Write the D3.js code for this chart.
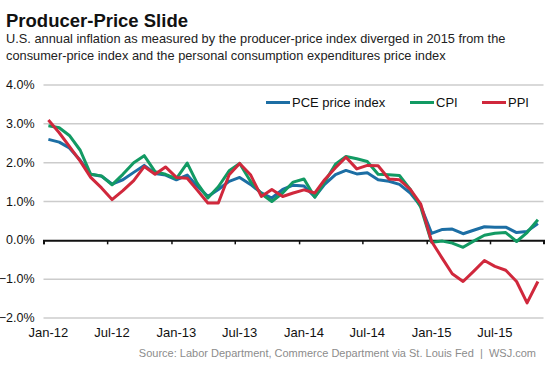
<!DOCTYPE html>
<html>
<head>
<meta charset="utf-8">
<script src="https://cdn.jsdelivr.net/npm/d3@7"></script>
<style>
  html, body { margin: 0; padding: 0; background: #fff; }
  svg { display: block; font-family: "Liberation Sans", Arial, sans-serif; }
</style>
</head>
<body>
<svg id="chart" width="553" height="369"></svg>
<script>
// monthly, Jan-12 .. Nov-15
const pce = [
  2.6, 2.53, 2.38, 2.06, 1.7, 1.65, 1.45, 1.56, 1.75, 1.93, 1.72, 1.68,
  1.56, 1.68, 1.4, 1.13, 1.31, 1.52, 1.62, 1.44, 1.22, 1.09, 1.31, 1.42,
  1.4, 1.12, 1.44, 1.69, 1.8, 1.71, 1.74, 1.56, 1.52, 1.44, 1.22, 0.88,
  0.18, 0.28, 0.29, 0.17, 0.26, 0.35, 0.34, 0.34, 0.2, 0.23, 0.43
];
const cpi = [
  2.95, 2.9, 2.7, 2.32, 1.7, 1.66, 1.43, 1.7, 2.0, 2.18, 1.77, 1.7,
  1.59, 1.99, 1.48, 1.09, 1.38, 1.79, 1.98, 1.52, 1.2, 1.0, 1.22, 1.5,
  1.58, 1.11, 1.5, 1.96, 2.16, 2.1, 2.03, 1.7, 1.69, 1.67, 1.31, 0.85,
  -0.05, -0.02, -0.07, -0.18, -0.02, 0.13, 0.18, 0.2, -0.03, 0.2, 0.53
];
const ppi = [
  3.1, 2.77, 2.42, 2.04, 1.62, 1.35, 1.05, 1.28, 1.54, 1.9, 1.7, 1.89,
  1.62, 1.6, 1.3, 0.96, 0.96, 1.69, 1.98, 1.69, 1.13, 1.31, 1.13, 1.22,
  1.3, 1.22, 1.56, 1.87, 2.14, 1.84, 1.93, 1.92, 1.58, 1.56, 1.31, 0.93,
  -0.03, -0.47, -0.86, -1.06, -0.8, -0.52, -0.67, -0.77, -1.06, -1.61, -1.06
];
const yTicks = [-2, -1, 0, 1, 2, 3, 4];
const xTickMonths = ["2012-01", "2012-07", "2013-01", "2013-07", "2014-01", "2014-07", "2015-01", "2015-07"];

const series = [
  { name: "PCE price index", values: pce, color: "#1c6ea4" },
  { name: "CPI", values: cpi, color: "#129a63" },
  { name: "PPI", values: ppi, color: "#d0283c" }
];

const parseMonth = d3.timeParse("%Y-%m");
const fmtTick = d3.timeFormat("%b-%y");
const midMonth = d => d3.timeDay.offset(d, 14);
const months = d3.timeMonth.range(parseMonth("2012-01"), parseMonth("2015-12"));

const svg = d3.select("#chart");

const x = d3.scaleTime()
  .domain([parseMonth("2012-01"), parseMonth("2015-12")])
  .range([43.5, 543.5]);
const y = d3.scaleLinear().domain([-2, 4]).range([318, 85]);

// heading
svg.append("text")
  .attr("x", 6).attr("y", 26.5)
  .attr("font-size", 18.5).attr("font-weight", "bold").attr("fill", "#111")
  .text("Producer-Price Slide");
const sub = [
  "U.S. annual inflation as measured by the producer-price index diverged in 2015 from the",
  "consumer-price index and the personal consumption expenditures price index"
];
svg.append("g").selectAll("text").data(sub).join("text")
  .attr("x", 6).attr("y", (d, i) => 42.5 + i * 17)
  .attr("font-size", 12.8).attr("fill", "#222")
  .text(d => d);

// gridlines + y labels
const grid = svg.append("g");
grid.selectAll("line").data(yTicks.filter(d => d !== 0)).join("line")
  .attr("x1", x.range()[0]).attr("x2", x.range()[1])
  .attr("y1", d => y(d)).attr("y2", d => y(d))
  .attr("stroke", "#cccccc").attr("stroke-width", 1.5);
grid.selectAll("text").data(yTicks).join("text")
  .attr("x", 34.5).attr("y", d => y(d))
  .attr("text-anchor", "end").attr("dominant-baseline", "central")
  .attr("font-size", 12.5).attr("fill", "#111")
  .text(d => d3.format(".1f")(d) + "%");

// zero axis with month ticks
const xAxis = d3.axisBottom(x)
  .tickValues(xTickMonths.map(parseMonth))
  .tickSize(4)
  .tickFormat("");
const ax = svg.append("g").attr("transform", `translate(0,${y(0)})`).call(xAxis);
ax.select(".domain").attr("stroke", "#111").attr("stroke-width", 2);
ax.selectAll(".tick line").attr("stroke", "#111").attr("stroke-width", 1.5);

svg.append("g").selectAll("text").data(xTickMonths.map(parseMonth)).join("text")
  .attr("x", d => x(midMonth(d))).attr("y", 337)
  .attr("text-anchor", "middle").attr("font-size", 13).attr("fill", "#111")
  .text(d => fmtTick(d));

// lines
const line = d3.line()
  .x((d, i) => x(midMonth(months[i])))
  .y(d => y(d));
svg.append("g").selectAll("path").data(series).join("path")
  .attr("d", d => line(d.values))
  .attr("fill", "none")
  .attr("stroke", d => d.color)
  .attr("stroke-width", 3)
  .attr("stroke-linejoin", "round");

// legend
const legendX = [266, 410, 482];
const lg = svg.append("g").selectAll("g").data(series).join("g")
  .attr("transform", (d, i) => `translate(${legendX[i]},102.5)`);
lg.append("line")
  .attr("x1", 0).attr("x2", 24)
  .attr("stroke", d => d.color).attr("stroke-width", 3);
lg.append("text")
  .attr("x", 26).attr("dominant-baseline", "central")
  .attr("font-size", 13).attr("fill", "#111")
  .text(d => d.name);

// source
svg.append("text")
  .attr("x", 536).attr("y", 357)
  .attr("text-anchor", "end").attr("font-size", 11).attr("fill", "#8c8c8c")
  .attr("xml:space", "preserve")
  .text("Source: Labor Department, Commerce Department via St. Louis Fed  |  WSJ.com");
</script>
</body>
</html>
